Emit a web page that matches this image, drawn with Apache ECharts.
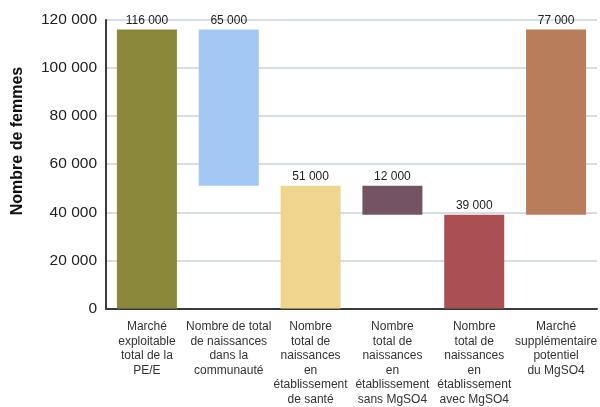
<!DOCTYPE html>
<html>
<head>
<meta charset="utf-8">
<script src="https://cdn.jsdelivr.net/npm/echarts@6/dist/echarts.min.js"></script>
<style>
  html, body { margin: 0; padding: 0; background: #fff; }
  #chart { width: 600px; height: 407px; }
</style>
</head>
<body>
<div id="chart"></div>
<script>
// Categories of the waterfall
const categories = [
  "Marché\nexploitable\ntotal de la\nPE/E",
  "Nombre de total\nde naissances\ndans la\ncommunauté",
  "Nombre\ntotal de\nnaissances\nen\nétablissement\nde santé",
  "Nombre\ntotal de\nnaissances\nen\nétablissement\nsans MgSO4",
  "Nombre\ntotal de\nnaissances\nen\nétablissement\navec MgSO4",
  "Marché\nsupplémentaire\npotentiel\ndu MgSO4"
];
// Invisible base under each floating bar
const baseValues = [0, 51000, 0, 39000, 0, 39000];
// Visible bar heights (also the labelled values)
const barValues = [116000, 65000, 51000, 12000, 39000, 77000];
const barColors = ["#8b883c", "#a3c8f3", "#f0d68c", "#735364", "#ab5052", "#b87d5a"];
const yTicks = [0, 20000, 40000, 60000, 80000, 100000, 120000];

const fmt = v => String(v).replace(/\B(?=(\d{3})+(?!\d))/g, " ");
const font = "Liberation Sans, Arial, sans-serif";

const chart = echarts.init(document.getElementById("chart"), null, { renderer: "canvas" });
chart.setOption({
  animation: false,
  grid: { left: 106, right: 2, top: 20, bottom: 96 },
  graphic: [{
    type: "text",
    x: 18, y: 141,
    rotation: Math.PI / 2,
    style: {
      text: "Nombre de femmes",
      font: "bold 16px " + font,
      fill: "#111",
      textAlign: "center",
      textVerticalAlign: "middle"
    }
  }],
  xAxis: {
    type: "category",
    data: categories,
    axisLine: { lineStyle: { color: "#3a3a3a", width: 2 } },
    axisTick: {
      inside: true, length: 7, alignWithLabel: true,
      interval: i => i % 2 === 1,
      lineStyle: { color: "#3a3a3a", width: 2 }
    },
    axisLabel: {
      interval: 0, margin: 11,
      color: "#333", fontFamily: font, fontSize: 12, lineHeight: 14.6, align: "center"
    }
  },
  yAxis: {
    type: "value",
    min: yTicks[0], max: yTicks[yTicks.length - 1], interval: 20000,
    axisLine: { show: true, lineStyle: { color: "#3a3a3a", width: 2 } },
    axisTick: { show: false },
    axisLabel: { color: "#222", fontFamily: font, fontSize: 15.5, margin: 9, formatter: fmt },
    splitLine: { lineStyle: { color: "#c8d4de", width: 1.5 } }
  },
  series: [
    {
      type: "bar", stack: "w", barWidth: 60,
      data: baseValues,
      itemStyle: { color: "transparent" },
      emphasis: { disabled: true }
    },
    {
      type: "bar", stack: "w", barWidth: 60,
      data: barValues.map((v, i) => ({ value: v, itemStyle: { color: barColors[i] } })),
      label: {
        show: true, position: "top", distance: 3,
        color: "#222", fontFamily: font, fontSize: 12,
        formatter: p => fmt(p.value)
      }
    }
  ]
});
</script>
</body>
</html>
